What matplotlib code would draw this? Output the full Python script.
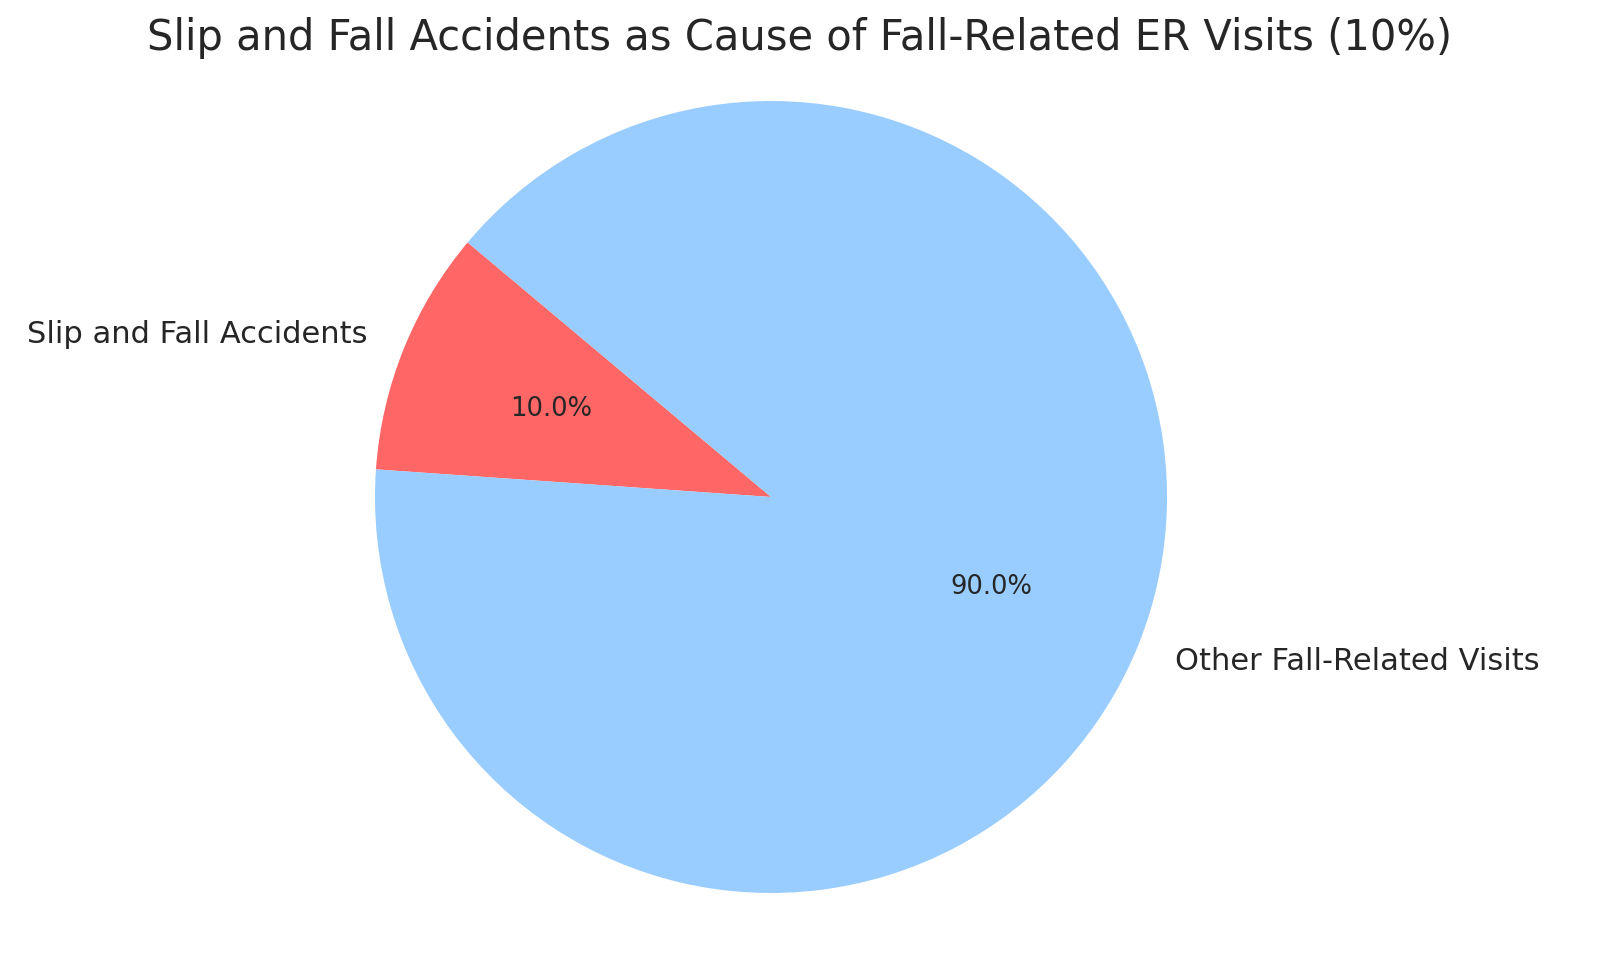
import matplotlib
matplotlib.use("Agg")
from matplotlib import pyplot as plt

labels = ["Slip and Fall Accidents", "Other Fall-Related Visits"]
shares = [10, 90]
colors = ["#ff6666", "#99ccff"]

plt.rcParams["font.family"] = ["DejaVu Sans"]
plt.rcParams["text.color"] = "#262626"

fig = plt.figure(figsize=(16, 9.7), dpi=100)
ax = fig.add_axes([0, 0, 1, 1])

wedges, texts, autotexts = ax.pie(shares, labels=labels, colors=colors, autopct="%1.1f%%",
                                  startangle=140, textprops={"fontsize": 22})
for t in autotexts:
    t.set_fontsize(18.5)

ax.set_aspect("equal")
ax.set_xlim(-771 / 396, (1600 - 771) / 396)
ax.set_ylim(-472 / 396, (970 - 472) / 396)
ax.axis("off")

fig.suptitle("Slip and Fall Accidents as Cause of Fall-Related ER Visits (10%)",
             fontsize=30, y=1 - 38 / 970, va="center")

fig.savefig("out.png", dpi=100)
